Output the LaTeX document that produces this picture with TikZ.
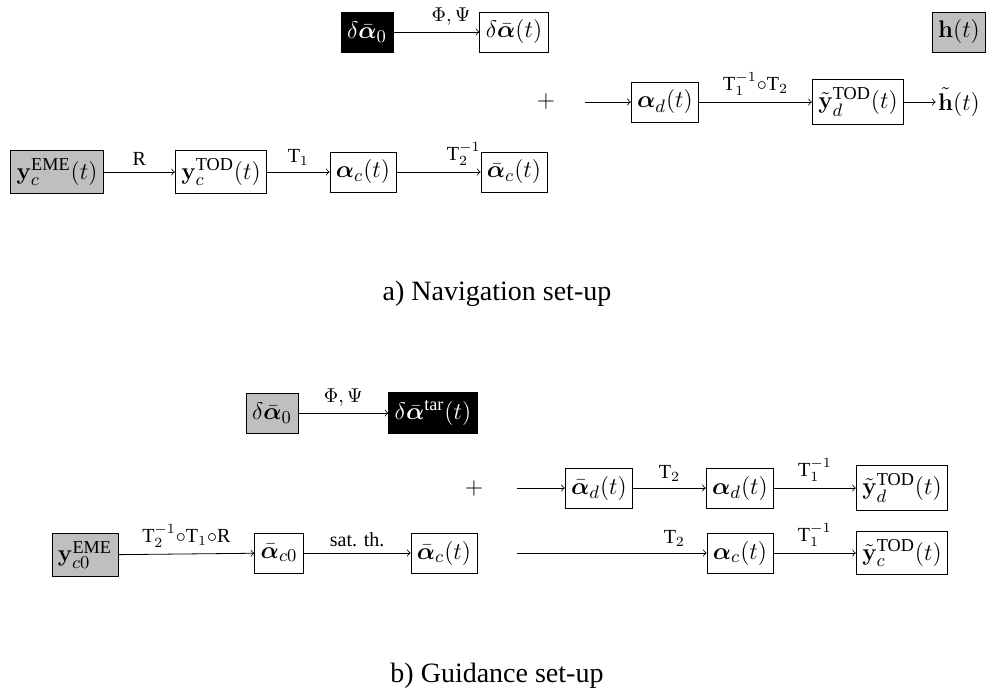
\documentclass[tikz,border=0pt]{standalone}
\usepackage{amsmath}
\usepackage[no-math]{fontspec}
\setmainfont{Liberation Serif}
\usepackage{bm}

\begin{document}
\begin{tikzpicture}[
    x=0.5pt, y=-0.5pt,
    block/.style={rectangle, draw, thin, minimum height=20pt, inner xsep=3pt, inner ysep=4pt, font=\fontsize{13}{15}\selectfont},
    grayblock/.style={block, fill=gray!50},
    blackblock/.style={block, fill=black, text=white},
    plain/.style={inner sep=1pt, font=\fontsize{12}{14}\selectfont},
    lbl/.style={font=\normalsize, inner sep=1pt, above=2pt},
    caption/.style={font=\fontsize{14}{16}\selectfont},
    arrow/.style={->, thin}
]
\useasboundingbox (0,0) rectangle (992,690);

% a) Navigation: top row
\node[blackblock] (na0) at (367,32) {$\delta\bar{\bm{\alpha}}_0$};
\node[block] (nat) at (514,32) {$\delta\bar{\bm{\alpha}}(t)$};
\node[grayblock] (nh) at (959,32) {$\mathbf{h}(t)$};

% a) middle row
\node[plain] (nplus) at (546,102) {$+$};
\coordinate (nstart) at (585,102);
\node[block] (nad) at (665,102) {$\bm{\alpha}_d(t)$};
\node[block] (nyd) at (858,102) {$\tilde{\mathbf{y}}_d^{\text{TOD}}(t)$};
\node[plain, font=\fontsize{13}{15}\selectfont] (nht) at (959,102) {$\tilde{\mathbf{h}}(t)$};

% a) bottom row
\node[grayblock] (nyeme) at (57,172) {$\mathbf{y}_c^{\text{EME}}(t)$};
\node[block] (nytod) at (221,172) {$\mathbf{y}_c^{\text{TOD}}(t)$};
\node[block] (nac) at (363,172) {$\bm{\alpha}_c(t)$};
\node[block] (nabc) at (514,172) {$\bar{\bm{\alpha}}_c(t)$};

\node[caption] (capa) at (497,294) {a) Navigation set-up};

% b) Guidance: top row
\node[grayblock] (ga0) at (272,413) {$\delta\bar{\bm{\alpha}}_0$};
\node[blackblock] (gtar) at (433,413) {$\delta\bar{\bm{\alpha}}^{\text{tar}}(t)$};

% b) middle row
\node[plain] (gplus) at (474,488) {$+$};
\coordinate (gstart) at (517,488);
\node[block] (gabd) at (599,488) {$\bar{\bm{\alpha}}_d(t)$};
\node[block] (gad) at (740,488) {$\bm{\alpha}_d(t)$};
\node[block] (gyd) at (902,488) {$\tilde{\mathbf{y}}_d^{\text{TOD}}(t)$};

% b) bottom row
\node[grayblock] (gyeme) at (85,555) {$\mathbf{y}_{c0}^{\text{EME}}$};
\node[block] (gabc0) at (279,553) {$\bar{\bm{\alpha}}_{c0}$};
\node[block] (gabc) at (444,553) {$\bar{\bm{\alpha}}_c(t)$};
\coordinate (gcstart) at (517,553);
\node[block] (gac) at (740,553) {$\bm{\alpha}_c(t)$};
\node[block] (gyc) at (902,553) {$\tilde{\mathbf{y}}_c^{\text{TOD}}(t)$};

\node[caption] (capb) at (497,676) {b) Guidance set-up};

% Arrows a)
\draw[arrow] (na0) -- node[lbl, pos=.67] {$\Phi,\Psi$} (nat);
\draw[arrow] (nstart) -- (nad);
\draw[arrow] (nad) -- node[lbl] {$\text{T}_1^{-1}{\circ}\text{T}_2$} (nyd);
\draw[arrow] (nyd) -- (nht);
\draw[arrow] (nyeme) -- node[lbl] {R} (nytod);
\draw[arrow] (nytod) -- node[lbl] {$\text{T}_1$} (nac);
\draw[arrow] (nac) -- node[lbl, pos=.8] {$\text{T}_2^{-1}$} (nabc);

% Arrows b)
\draw[arrow] (ga0) -- node[lbl] {$\Phi,\Psi$} (gtar);
\draw[arrow] (gstart) -- (gabd);
\draw[arrow] (gabd) -- node[lbl] {$\text{T}_2$} (gad);
\draw[arrow] (gad) -- node[lbl] {$\text{T}_1^{-1}$} (gyd);
\draw[arrow] (gyeme) -- node[lbl] {$\text{T}_2^{-1}{\circ}\text{T}_1{\circ}\text{R}$} (gabc0);
\draw[arrow] (gabc0) -- node[lbl] {sat. th.} (gabc);
\draw[arrow] (gcstart) -- node[lbl, pos=.83] {$\text{T}_2$} (gac);
\draw[arrow] (gac) -- node[lbl] {$\text{T}_1^{-1}$} (gyc);

\end{tikzpicture}
\end{document}
